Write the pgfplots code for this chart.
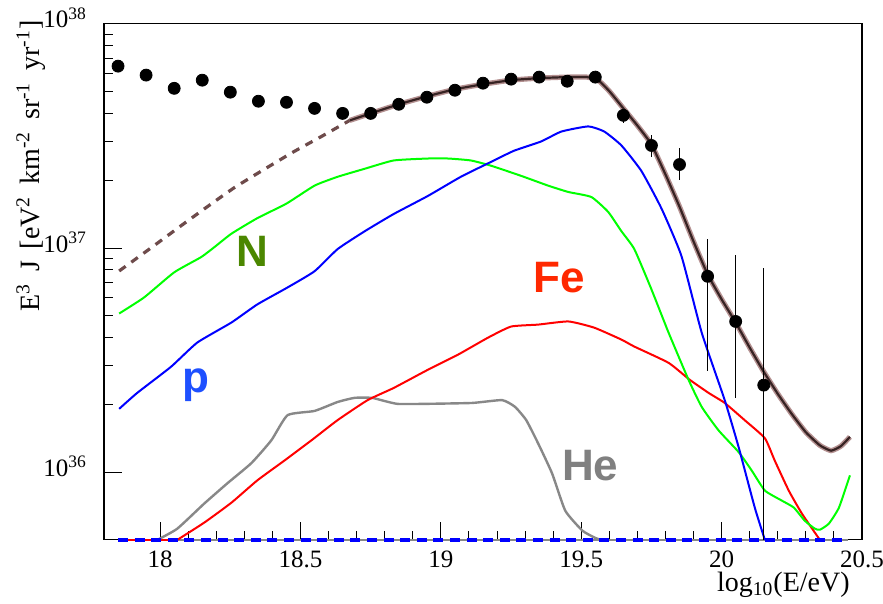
\documentclass[border=0pt]{standalone}
\usepackage{fontspec}
\setmainfont{Liberation Serif}
\newfontfamily\labfont{Liberation Sans}
\usepackage{pgfplots}
\pgfplotsset{compat=1.18}

\definecolor{rootgreen}{RGB}{0,255,0}
\definecolor{rootblue}{RGB}{0,0,255}
\definecolor{rootred}{RGB}{255,0,0}
\definecolor{rootgrey}{RGB}{136,136,136}
\definecolor{labN}{RGB}{75,135,0}
\definecolor{labp}{RGB}{30,80,255}
\definecolor{labFe}{RGB}{255,40,0}
\definecolor{labHe}{RGB}{128,128,128}
\definecolor{halo}{RGB}{180,145,145}
\definecolor{core}{RGB}{55,35,35}
\definecolor{dashc}{RGB}{110,75,75}

\begin{document}
\begin{tikzpicture}
\useasboundingbox (-52pt,-32pt) rectangle (389.5pt,270pt);
\begin{axis}[
  at={(0,0)}, anchor=south west,
  scale only axis, width=379pt, height=258pt,
  ymode=log,
  xmin=17.8, xmax=20.5, ymin=5e35, ymax=1e38,
  xtick={18,18.5,19,19.5,20,20.5},
  xticklabels={18,18.5,19,19.5,20,20.5},
  minor x tick num=4,
  ytick={1e36,1e37,1e38},
  yticklabels={10\textsuperscript{36},10\textsuperscript{37},10\textsuperscript{38}},
  tick align=inside, tick pos=left,
  major tick length=9pt, minor tick length=4.5pt,
  tick style={black, line width=0.5pt},
  axis line style={line width=0.6pt},
  ticklabel style={font=\fontsize{12.5}{14}\selectfont},
  xticklabel style={yshift=-2pt},
  yticklabel style={xshift=-5pt, yshift=3pt},
  xlabel={log\textsubscript{10}(E/eV)},
  ylabel={E\textsuperscript{3}\, J\, [eV\textsuperscript{2}\, km\textsuperscript{-2}\, sr\textsuperscript{-1}\, yr\textsuperscript{-1}]},
  label style={font=\fontsize{14}{16}\selectfont},
  xlabel style={at={(axis description cs:0.993,-0.1)}, anchor=base east},
  ylabel style={at={(axis description cs:-0.096,1.02)}, anchor=east},
  clip=false,
]
% flat components along the lower edge
\addplot[rootgrey, line width=1.2pt] coordinates {(17.85,5e35) (20.45,5e35)};
\addplot[rootred, line width=1pt] coordinates {(17.85,5e35) (18.06,5e35)};

% He
\addplot[rootgrey, line width=1.2pt, smooth, tension=0.3] coordinates {
(17.99,5e35) (18.061,5.61e35) (18.157,7.26e35) (18.239,8.93e35) (18.325,1.10e36)
(18.396,1.39e36) (18.454,1.80e36) (18.55,1.88e36) (18.632,2.06e36) (18.693,2.15e36)
(18.754,2.15e36) (18.8,2.08e36) (18.846,2.02e36) (18.932,2.02e36) (19.111,2.04e36)
(19.218,2.10e36) (19.264,1.96e36) (19.304,1.71e36) (19.346,1.35e36) (19.396,9.90e35)
(19.443,6.75e35) (19.504,5.50e35) (19.55,5.1e35) (19.57,5e35)};

% Fe
\addplot[rootred, line width=1pt, smooth, tension=0.3] coordinates {
(18.061,5e35) (18.157,5.97e35) (18.254,7.33e35) (18.346,9.21e35) (18.443,1.13e36)
(18.539,1.39e36) (18.632,1.71e36) (18.739,2.10e36) (18.832,2.38e36) (18.954,2.87e36)
(19.061,3.35e36) (19.168,3.99e36) (19.25,4.47e36) (19.346,4.56e36) (19.454,4.71e36)
(19.546,4.42e36) (19.643,3.91e36) (19.689,3.64e36) (19.811,3.08e36) (19.886,2.59e36)
(19.954,2.26e36) (20.011,2.04e36) (20.082,1.71e36) (20.154,1.42e36) (20.189,1.13e36)
(20.239,8.30e35) (20.286,6.55e35) (20.35,5e35)};

% N
\addplot[rootgreen, line width=1pt, smooth, tension=0.3] coordinates {
(17.854,5.11e36) (17.943,6.03e36) (18.05,7.80e36) (18.146,9.12e36) (18.193,1.01e37)
(18.254,1.16e37) (18.346,1.36e37) (18.45,1.58e37) (18.55,1.90e37) (18.632,2.08e37)
(18.729,2.26e37) (18.832,2.46e37) (18.954,2.51e37) (19.025,2.51e37) (19.107,2.46e37)
(19.179,2.33e37) (19.286,2.10e37) (19.382,1.90e37) (19.454,1.78e37) (19.536,1.69e37)
(19.596,1.45e37) (19.643,1.19e37) (19.689,9.90e36) (19.75,6.55e36) (19.811,4.20e36)
(19.882,2.59e36) (19.929,1.96e36) (19.989,1.54e36) (20.061,1.23e36) (20.107,1.02e36)
(20.154,8.30e35) (20.214,7.49e35) (20.257,6.97e35) (20.296,6.09e35) (20.332,5.61e35)
(20.35,5.55e35) (20.382,5.91e35) (20.418,6.97e35) (20.457,9.70e35)};

% p
\addplot[rootblue, line width=1pt, smooth, tension=0.3] coordinates {
(17.854,1.92e36) (17.918,2.26e36) (18.039,2.96e36) (18.132,3.79e36) (18.254,4.66e36)
(18.346,5.61e36) (18.454,6.68e36) (18.55,7.89e36) (18.632,9.90e36) (18.729,1.19e37)
(18.832,1.42e37) (18.954,1.71e37) (19.071,2.08e37) (19.189,2.46e37) (19.261,2.72e37)
(19.357,2.99e37) (19.429,3.31e37) (19.525,3.49e37) (19.582,3.31e37) (19.643,2.87e37)
(19.714,2.21e37) (19.786,1.50e37) (19.857,9.21e36) (19.929,4.20e36) (20.011,2.10e36)
(20.061,1.29e36) (20.118,6.97e35) (20.154,5e35)};

% blue dashed component on the lower edge
\addplot[rootblue, line width=2pt, dash pattern=on 5pt off 3.3pt] coordinates {(17.85,5e35) (20.45,5e35)};

% total: dashed below the fit range
\addplot[dashc, line width=1.6pt, dash pattern=on 4pt off 3.5pt, smooth, tension=0.3] coordinates {
(17.854,7.91e36) (17.971,1.01e37) (18.075,1.26e37) (18.168,1.53e37) (18.264,1.86e37)
(18.364,2.22e37) (18.471,2.67e37) (18.575,3.15e37) (18.675,3.71e37)};

% total: solid
\pgfplotstableread{
x y
18.675 3.71e37
18.75 3.99e37
18.85 4.38e37
18.95 4.75e37
19.05 5.11e37
19.15 5.38e37
19.25 5.61e37
19.35 5.73e37
19.45 5.79e37
19.52 5.79e37
19.56 5.61e37
19.6 5.01e37
19.65 4.20e37
19.7 3.52e37
19.75 2.90e37
19.8 2.13e37
19.85 1.53e37
19.9 1.07e37
19.95 7.65e36
20.0 5.91e36
20.05 4.66e36
20.1 3.60e36
20.15 2.81e36
20.2 2.24e36
20.25 1.82e36
20.3 1.51e36
20.35 1.32e36
20.39 1.25e36
20.425 1.31e36
20.457 1.44e36
}\total
\addplot[halo, line width=2.6pt, smooth, tension=0.3] table {\total};
\addplot[core, line width=1.1pt, smooth, tension=0.3] table {\total};

% data
\addplot[only marks, mark=*, black, mark size=3pt] coordinates {
(17.85,6.48e37) (17.95,5.91e37) (18.05,5.16e37) (18.15,5.61e37) (18.25,4.96e37)
(18.35,4.52e37) (18.45,4.47e37) (18.55,4.20e37) (18.65,3.99e37) (18.75,3.99e37)
(18.85,4.38e37) (18.95,4.71e37) (19.05,5.06e37) (19.15,5.44e37) (19.25,5.67e37)
(19.35,5.79e37) (19.45,5.55e37) (19.55,5.79e37)};
\addplot[only marks, mark=*, black, mark size=3pt,
  error bars/.cd, y dir=both, y explicit, error mark=none,
  error bar style={black, line width=0.6pt}] coordinates {
(19.65,3.91e37) += (0,1.6e36) -= (0,2.8e36)
(19.75,2.87e37) += (0,3.4e36) -= (0,3.1e36)
(19.85,2.36e37) += (0,4.5e36) -= (0,3.4e36)
(19.95,7.49e36) += (0,3.5e36) -= (0,4.65e36)
(20.05,4.71e36) += (0,4.6e36) -= (0,2.56e36)
(20.15,2.45e36) += (0,5.68e36) -= (0,1.95e36)};

\node[anchor=base, text=labN, font=\labfont\bfseries\fontsize{22}{26}\selectfont] at (axis cs:18.329,8.3e36) {N};
\node[anchor=base, text=labp, font=\labfont\bfseries\fontsize{22}{26}\selectfont] at (axis cs:18.129,2.28e36) {p};
\node[anchor=base, text=labFe, font=\labfont\bfseries\fontsize{22}{26}\selectfont] at (axis cs:19.421,6.35e36) {Fe};
\node[anchor=base, text=labHe, font=\labfont\bfseries\fontsize{22}{26}\selectfont] at (axis cs:19.532,9.2e35) {He};
\end{axis}
\end{tikzpicture}
\end{document}
